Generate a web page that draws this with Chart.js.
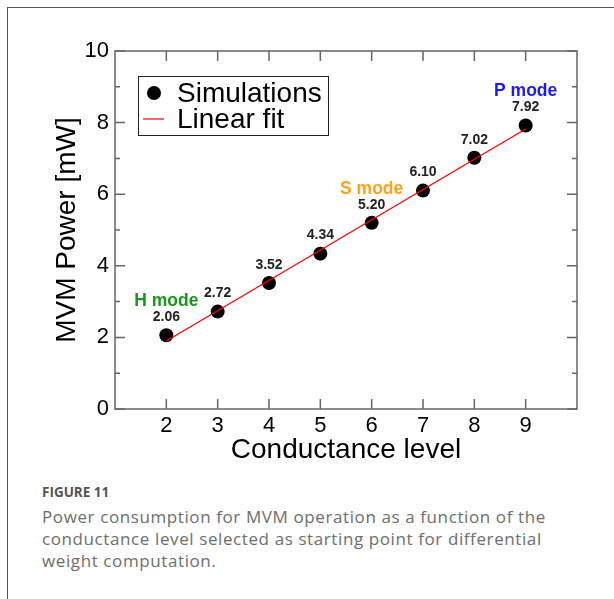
<!DOCTYPE html>
<html>
<head>
<meta charset="utf-8">
<script src="https://cdn.jsdelivr.net/npm/chart.js@4.4.0/dist/chart.umd.min.js"></script>
<style>
  body { margin: 0; background: #fff; width: 614px; height: 599px; overflow: hidden; position: relative; }
  #frame { position: absolute; left: 7px; top: 7px; width: 700px; height: 700px; border-left: 1px solid #555; border-top: 1px solid #555; }
  #chart { position: absolute; left: 0; top: 0; }
  .fig { position: absolute; left: 42px; top: 483px; font-family: "Open Sans"; font-weight: 700; font-size: 13.5px; line-height: 18px; color: #555; white-space: nowrap; }
  .cap { position: absolute; left: 42px; top: 506px; font-family: "Open Sans"; font-size: 17px; line-height: 22px; color: #6e6e6e; white-space: nowrap; letter-spacing: 0.6px; }
</style>
</head>
<body>
<div id="frame"></div>
<canvas id="chart" width="614" height="475"></canvas>
<div class="fig">FIGURE 11</div>
<div class="cap">Power consumption for MVM operation as a function of the<br>conductance level selected as starting point for differential<br>weight computation.</div>
<script>
var family = "'Liberation Sans', Arial, sans-serif";

// data
var levels = [2, 3, 4, 5, 6, 7, 8, 9];
var power = [2.06, 2.72, 3.52, 4.34, 5.20, 6.10, 7.02, 7.92];
var fitLevels = [2, 9];
var fitPower = [1.90, 7.82];
var modeNames = ['H mode', 'S mode', 'P mode'];
var modeLevels = [2, 6, 9];
var modeColors = ['#1e961e', '#ffa31a', '#1a1aff'];
var xTickLabels = ['2', '3', '4', '5', '6', '7', '8', '9'];
var yTickLabels = ['0', '2', '4', '6', '8', '10'];
var yMinorTicks = [1, 3, 5, 7, 9];

var simPoints = levels.map(function (l, i) { return {x: l, y: power[i]}; });
var fitPoints = fitLevels.map(function (l, i) { return {x: l, y: fitPower[i]}; });

// box round the plot, with inward ticks on all four sides
var frameTicks = {
    id: 'frameTicks',
    beforeDatasetsDraw: function (chart) {
        var ctx = chart.ctx, a = chart.chartArea, x = chart.scales.x, y = chart.scales.y;
        ctx.save();
        ctx.strokeStyle = '#666';
        ctx.lineWidth = 1.5;
        ctx.strokeRect(a.left, a.top, a.right - a.left, a.bottom - a.top);
        ctx.beginPath();
        xTickLabels.forEach(function (t) {
            var px = x.getPixelForValue(+t);
            ctx.moveTo(px, a.bottom); ctx.lineTo(px, a.bottom - 10);
            ctx.moveTo(px, a.top); ctx.lineTo(px, a.top + 10);
        });
        yTickLabels.forEach(function (t) {
            var py = y.getPixelForValue(+t);
            ctx.moveTo(a.left, py); ctx.lineTo(a.left + 10, py);
            ctx.moveTo(a.right, py); ctx.lineTo(a.right - 10, py);
        });
        yMinorTicks.forEach(function (t) {
            var py = y.getPixelForValue(t);
            ctx.moveTo(a.left, py); ctx.lineTo(a.left + 5, py);
            ctx.moveTo(a.right, py); ctx.lineTo(a.right - 5, py);
        });
        ctx.stroke();
        ctx.restore();
    }
};

// value labels over the dots and the mode names
var pointLabels = {
    id: 'pointLabels',
    afterDatasetsDraw: function (chart) {
        var ctx = chart.ctx;
        var meta = chart.getDatasetMeta(1);
        ctx.save();
        ctx.textAlign = 'center';
        ctx.textBaseline = 'middle';
        meta.data.forEach(function (pt, i) {
            ctx.fillStyle = '#222';
            ctx.font = 'bold 14px ' + family;
            ctx.fillText(power[i].toFixed(2), pt.x, pt.y - 18);
            var m = modeLevels.indexOf(levels[i]);
            if (m >= 0) {
                ctx.fillStyle = modeColors[m];
                ctx.font = 'bold 17.5px ' + family;
                ctx.fillText(modeNames[m], pt.x, pt.y - 34);
            }
        });
        ctx.restore();
    }
};

var boxLegend = {
    id: 'boxLegend',
    afterDraw: function (chart) {
        var ctx = chart.ctx, a = chart.chartArea;
        var ds = chart.data.datasets;
        var bx = a.left + 23, by = a.top + 25;
        ctx.save();
        ctx.strokeStyle = '#222';
        ctx.lineWidth = 1;
        ctx.fillStyle = '#fff';
        ctx.fillRect(bx, by, 190, 59);
        ctx.strokeRect(bx + 0.5, by + 0.5, 190, 59);
        ctx.fillStyle = '#000';
        ctx.beginPath();
        ctx.arc(bx + 16, by + 17, 7, 0, Math.PI * 2);
        ctx.fill();
        ctx.strokeStyle = '#ff0000';
        ctx.lineWidth = 1.2;
        ctx.beginPath();
        ctx.moveTo(bx + 5, by + 43); ctx.lineTo(bx + 26, by + 43);
        ctx.stroke();
        ctx.font = '28px ' + family;
        ctx.textBaseline = 'middle';
        ctx.textAlign = 'left';
        ctx.fillStyle = '#000';
        ctx.fillText(ds[1].label, bx + 39, by + 18);
        ctx.fillText(ds[0].label, bx + 39, by + 44);
        ctx.restore();
    }
};

var ctx = document.getElementById('chart').getContext('2d');
new Chart(ctx, {
    type: 'scatter',
    data: {
        datasets: [
            {
                label: 'Linear fit',
                type: 'line',
                data: fitPoints,
                borderColor: '#ff0000',
                borderWidth: 1.3,
                pointRadius: 0,
                fill: false,
                order: 0
            },
            {
                label: 'Simulations',
                data: simPoints,
                backgroundColor: '#000',
                borderWidth: 0,
                pointRadius: 7,
                order: 1
            }
        ]
    },
    options: {
        responsive: false,
        animation: false,
        layout: {padding: {left: 40, top: 51, right: 37, bottom: 0}},
        plugins: {legend: {display: false}, tooltip: {enabled: false}},
        scales: {
            x: {
                type: 'linear', min: 1, max: 10,
                afterFit: function (s) { s.height = 66; },
                grid: {display: false, drawTicks: false},
                border: {display: false},
                ticks: {
                    stepSize: 1, autoSkip: false, maxRotation: 0, padding: 4,
                    color: '#000', font: {family: family, size: 22},
                    callback: function (v) { return xTickLabels.indexOf(String(v)) >= 0 ? String(v) : ''; }
                },
                title: {display: true, text: 'Conductance level', color: '#000',
                        font: {family: family, size: 28}, padding: {top: 0, bottom: 8}}
            },
            y: {
                min: 0, max: 10,
                afterFit: function (s) { s.width = 75; },
                grid: {display: false, drawTicks: false},
                border: {display: false},
                ticks: {
                    stepSize: 2, padding: 6,
                    color: '#000', font: {family: family, size: 22},
                    callback: function (v) { return yTickLabels.indexOf(String(v)) >= 0 ? String(v) : ''; }
                },
                title: {display: true, text: 'MVM Power [mW]', color: '#000',
                        font: {family: family, size: 28}, padding: {top: 10, bottom: 0}}
            }
        }
    },
    plugins: [frameTicks, pointLabels, boxLegend]
});
</script>
</body>
</html>
